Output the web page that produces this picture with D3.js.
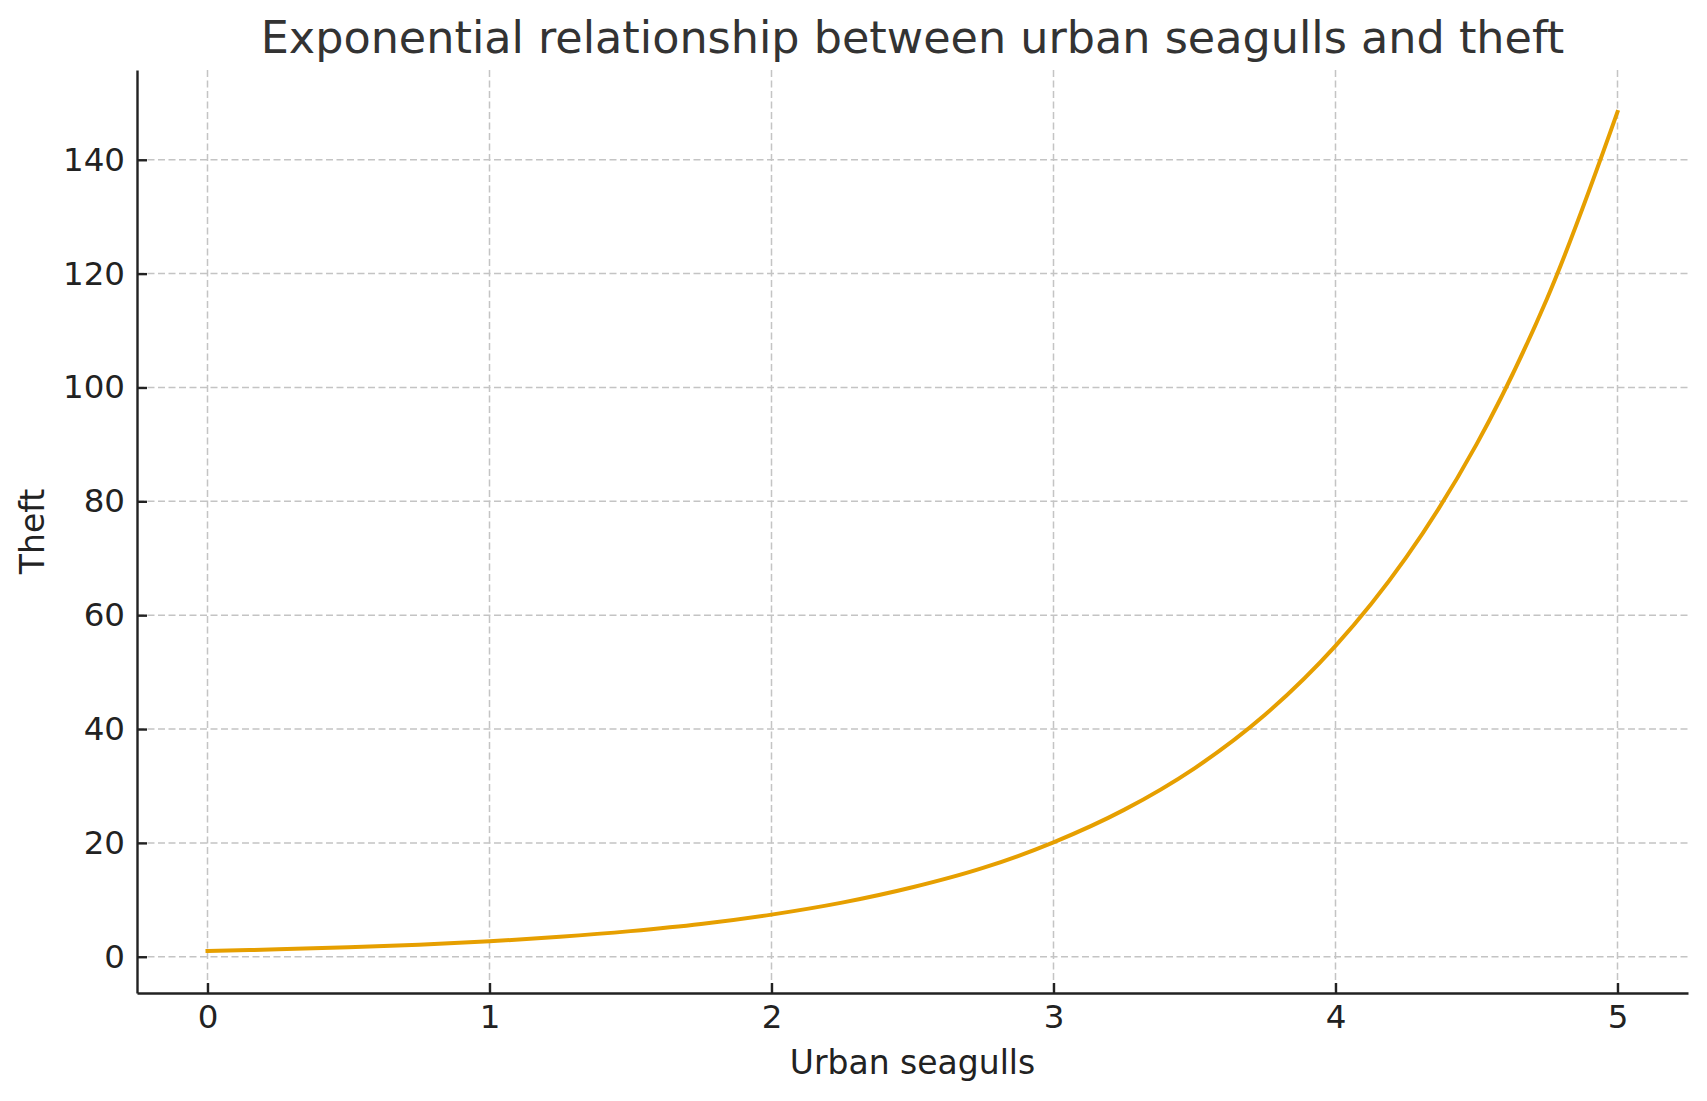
<!DOCTYPE html>
<html lang="en">
<head>
    <meta charset="UTF-8">
    <title>Exponential relationship between urban seagulls and theft</title>
    <script src="https://d3js.org/d3.v7.min.js"></script>
    <style>
        body { margin: 0; background: #fff; }
        svg { display: block; font-family: "DejaVu Sans", sans-serif; }
        .grid line { stroke: #c4c4c4; stroke-width: 1.5; stroke-dasharray: 7,3.5; }
        .axis path, .axis line { stroke: #222; stroke-width: 2.4; }
        .axis text { fill: #222; font-size: 32.5px; font-family: "DejaVu Sans", sans-serif; }
        .axis-label { fill: #222; font-size: 33px; }
        .title { fill: #333; font-size: 44.5px; }
    </style>
</head>
<body>
    <div id="chart"></div>

    <script>
        // values
        const seagulls = [0, 0.25, 0.5, 0.75, 1, 1.25, 1.5, 1.75, 2, 2.25, 2.5,
                          2.75, 3, 3.25, 3.5, 3.75, 4, 4.25, 4.5, 4.75, 5];
        const theft = [1.0, 1.3, 1.65, 2.1, 2.7, 3.5, 4.5, 5.75, 7.4, 9.5, 12.2,
                       15.6, 20.1, 25.8, 33.1, 42.5, 54.6, 70.1, 90.0, 115.6, 148.4];
        const xTicks = [0, 1, 2, 3, 4, 5];
        const yTicks = [0, 20, 40, 60, 80, 100, 120, 140];

        const W = 1707, H = 1101;
        // plot area edges in pixels
        const box = {left: 137, right: 1688, top: 70, bottom: 993};

        const svg = d3.select("#chart")
                      .append("svg")
                      .attr("width", W)
                      .attr("height", H);

        // matplotlib style 5% margins around the data
        const xPad = (d3.max(seagulls) - d3.min(seagulls)) * 0.05;
        const yPad = (d3.max(theft) - d3.min(theft)) * 0.05;

        const x = d3.scaleLinear()
                    .domain([d3.min(seagulls) - xPad, d3.max(seagulls) + xPad])
                    .range([box.left, box.right]);
        const y = d3.scaleLinear()
                    .domain([d3.min(theft) - yPad, d3.max(theft) + yPad])
                    .range([box.bottom, box.top]);

        // Grid
        const grid = svg.append("g").attr("class", "grid");
        grid.selectAll(".gx")
            .data(xTicks)
            .enter()
            .append("line")
            .attr("x1", d => x(d)).attr("x2", d => x(d))
            .attr("y1", box.top).attr("y2", box.bottom);
        grid.selectAll(".gy")
            .data(yTicks)
            .enter()
            .append("line")
            .attr("x1", box.left).attr("x2", box.right)
            .attr("y1", d => y(d)).attr("y2", d => y(d));

        // Line
        const line = d3.line()
                       .x((d, i) => x(seagulls[i]))
                       .y(d => y(d))
                       .curve(d3.curveCatmullRom);
        svg.append("path")
           .datum(theft)
           .attr("fill", "none")
           .attr("stroke", "#E69F00")
           .attr("stroke-width", 4)
           .attr("stroke-linecap", "square")
           .attr("d", line);

        // Axes (ticks point inward)
        svg.append("g")
           .attr("class", "axis")
           .attr("transform", `translate(0, ${box.bottom})`)
           .call(d3.axisBottom(x).tickValues(xTicks).tickFormat(d3.format("d"))
                 .tickSizeInner(-10).tickSizeOuter(0).tickPadding(12));

        svg.append("g")
           .attr("class", "axis")
           .attr("transform", `translate(${box.left}, 0)`)
           .call(d3.axisLeft(y).tickValues(yTicks).tickFormat(d3.format("d"))
                 .tickSizeInner(-10).tickSizeOuter(0).tickPadding(12));

        // Labels
        svg.append("text")
           .attr("class", "axis-label")
           .attr("x", (box.left + box.right) / 2)
           .attr("y", 1074)
           .style("text-anchor", "middle")
           .text("Urban seagulls");

        svg.append("text")
           .attr("class", "axis-label")
           .attr("transform", `translate(44, ${(box.top + box.bottom) / 2}) rotate(-90)`)
           .style("text-anchor", "middle")
           .text("Theft");

        svg.append("text")
           .attr("class", "title")
           .attr("x", (box.left + box.right) / 2)
           .attr("y", 53)
           .style("text-anchor", "middle")
           .text("Exponential relationship between urban seagulls and theft");
    </script>
</body>
</html>
